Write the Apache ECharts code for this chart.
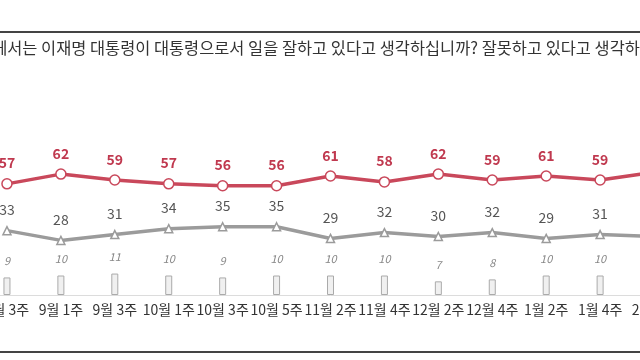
<!DOCTYPE html>
<html><head><meta charset="utf-8">
<script src="https://cdn.jsdelivr.net/npm/echarts@6/dist/echarts.min.js"></script>
<style>html,body{margin:0;padding:0;background:#fff;overflow:hidden;width:640px;height:360px}#c{position:absolute;left:-30px;top:0;width:720px;height:360px}</style>
</head><body><div id="c"></div>
<script>
const categories = ['8월 3주','9월 1주','9월 3주','10월 1주','10월 3주','10월 5주','11월 2주','11월 4주','12월 2주','12월 4주','1월 2주','1월 4주','2월 2주'];
const positive = [57,62,59,57,56,56,61,58,62,59,61,59,63];
const negative = [33,28,31,34,35,35,29,32,30,32,29,31,30];
const noAnswer = [9,10,11,10,9,10,10,10,7,8,10,10,7];
const title = '귀하께서는 이재명 대통령이 대통령으로서 일을 잘하고 있다고 생각하십니까? 잘못하고 있다고 생각하십니까?';

const chart = echarts.init(document.getElementById('c'), null, {renderer:'canvas'});
const FONT = '"Noto Sans CJK KR","Noto Sans",sans-serif';
chart.setOption({
  animation:false,
  backgroundColor:'#fff',
  grid:{left:10, right:9, top:100, bottom:65},
  xAxis:{type:'category', data:categories, boundaryGap:true,
    axisLine:{show:true, lineStyle:{color:'#dcdcdc', width:1}},
    axisTick:{show:false},
    axisLabel:{interval:0, color:'#333', fontSize:14, fontFamily:FONT, margin:8}},
  yAxis:{type:'value', min:0, max:100, show:false, splitLine:{show:false}},
  graphic:[
    {type:'line', shape:{x1:30,y1:32,x2:670,y2:32}, style:{stroke:'#444', lineWidth:2}},
    {type:'line', shape:{x1:30,y1:352,x2:670,y2:352}, style:{stroke:'#444', lineWidth:2}},
    {type:'text', x:-8, y:48, style:{text:title, font:'16.4px '+FONT, fill:'#333', textVerticalAlign:'middle'}}
  ],
  series:[
    {type:'bar', data:noAnswer, barWidth:7,
      itemStyle:{color:'#f0f0f0', borderColor:'#aaa', borderWidth:1},
      label:{show:true, position:'top', distance:11, color:'#888', fontSize:11, fontStyle:'italic', fontFamily:FONT}},
    {type:'line', data:negative, symbol:'triangle', symbolSize:8,
      lineStyle:{color:'#9b9b9b', width:3.5},
      itemStyle:{color:'#fff', borderColor:'#9b9b9b', borderWidth:1.5},
      label:{show:true, position:'top', distance:9, color:'#555', fontSize:14, fontFamily:FONT}},
    {type:'line', data:positive, symbol:'circle', symbolSize:10,
      lineStyle:{color:'#c9485b', width:3.5},
      itemStyle:{color:'#fff', borderColor:'#c9485b', borderWidth:1.5},
      label:{show:true, position:'top', distance:8, color:'#c0394f', fontSize:14, fontWeight:'bold', fontFamily:FONT}}
  ]
});
</script></body></html>
